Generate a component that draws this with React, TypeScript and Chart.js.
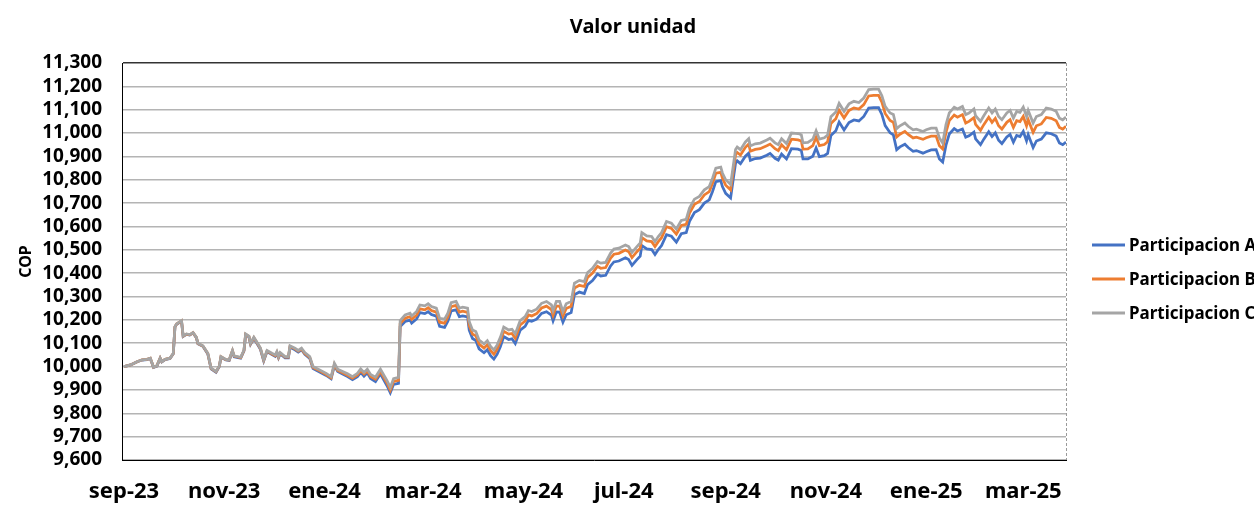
import React, { useEffect, useRef } from "react";
import { Chart, registerables } from "chart.js";

Chart.register(...registerables);

// Days elapsed since 2023-09-01 for each observation
const START_DATE = Date.UTC(2023, 8, 1);
const dayOffsets = [
  0, 4, 8, 11, 14, 16, 18, 20, 22, 23, 25, 28, 30, 31, 32, 35, 36, 38, 40, 42,
  44, 45, 48, 51, 53, 56, 58, 59, 62, 64, 66, 67, 71, 73, 74, 76, 77, 79, 81, 83,
  85, 87, 90, 92, 93, 94, 95, 98, 100, 101, 104, 106, 108, 110, 113, 115, 119, 123, 126, 128,
  130, 133, 136, 139, 142, 144, 146, 148, 150, 153, 156, 158, 160, 162, 164, 167, 168, 171, 174, 175,
  178, 180, 183, 185, 187, 190, 192, 195, 197, 199, 202, 204, 206, 209, 210, 212, 214, 216, 219, 221,
  223, 225, 227, 229, 231, 234, 236, 238, 241, 244, 246, 248, 251, 254, 257, 260, 261, 263, 265, 267,
  269, 272, 274, 277, 280, 282, 285, 288, 290, 293, 296, 298, 301, 305, 307, 309, 312, 314, 315, 318,
  321, 323, 325, 327, 330, 333, 336, 339, 342, 344, 347, 350, 353, 356, 358, 360, 363, 364, 366, 369,
  371, 372, 373, 375, 378, 380, 381, 384, 387, 391, 393, 396, 398, 400, 403, 406, 410, 412, 413, 416,
  419, 421, 423, 426, 428, 430, 433, 435, 438, 441, 444, 447, 450, 453, 456, 459, 461, 463, 466, 468,
  470, 472, 475, 477, 480, 482, 486, 488, 491, 494, 496, 498, 500, 502, 505, 507, 510, 512, 514, 517,
  518, 521, 523, 526, 528, 530, 532, 534, 537, 539, 541, 543, 545, 547, 549, 550, 553, 555, 558, 561,
  564, 567, 569, 571, 573,
];

const participacionC = [
  10000, 10007, 10021, 10029, 10031, 10036, 9997, 10003, 10036, 10021, 10031, 10036, 10057, 10171, 10183, 10197, 10131, 10140, 10137, 10146,
  10126, 10100, 10089, 10057, 9993, 9979, 10003, 10043, 10031, 10029, 10069, 10046, 10040, 10071, 10140, 10131, 10100, 10126, 10103, 10079,
  10029, 10069, 10057, 10050, 10064, 10043, 10060, 10043, 10043, 10089, 10079, 10069, 10079, 10060, 10043, 10000, 9986, 9971, 9957, 10014,
  9989, 9979, 9969, 9957, 9971, 9990, 9975, 9989, 9966, 9955, 9989, 9964, 9940, 9911, 9948, 9954, 10197, 10221, 10229, 10217,
  10236, 10264, 10260, 10269, 10257, 10250, 10207, 10203, 10229, 10274, 10279, 10250, 10254, 10250, 10193, 10157, 10150, 10114, 10097, 10111,
  10086, 10071, 10093, 10126, 10169, 10157, 10160, 10140, 10197, 10214, 10240, 10236, 10246, 10271, 10279, 10264, 10240, 10279, 10279, 10236,
  10269, 10279, 10357, 10369, 10364, 10403, 10421, 10450, 10443, 10446, 10486, 10503, 10507, 10521, 10514, 10489, 10514, 10529, 10574, 10560,
  10557, 10536, 10557, 10574, 10621, 10614, 10589, 10626, 10631, 10679, 10717, 10729, 10757, 10771, 10807, 10850, 10854, 10829, 10800, 10780,
  10880, 10930, 10940, 10929, 10962, 10976, 10945, 10954, 10957, 10970, 10978, 10958, 10950, 10976, 10955, 11000, 10998, 10993, 10958, 10960,
  10974, 11010, 10974, 10980, 10992, 11070, 11090, 11127, 11093, 11125, 11136, 11131, 11150, 11186, 11188, 11188, 11160, 11114, 11086, 11080,
  11019, 11031, 11043, 11029, 11014, 11017, 11007, 11014, 11021, 11021, 10979, 10957, 11036, 11086, 11111, 11103, 11114, 11079, 11086, 11103,
  11074, 11050, 11074, 11107, 11086, 11103, 11071, 11057, 11086, 11097, 11064, 11093, 11089, 11111, 11071, 11097, 11043, 11071, 11079, 11107,
  11103, 11093, 11064, 11057, 11069,
];

const participacionB = [
  10000, 10007, 10021, 10029, 10031, 10036, 9997, 10003, 10036, 10021, 10031, 10036, 10056, 10170, 10182, 10196, 10130, 10139, 10136, 10145,
  10125, 10099, 10088, 10056, 9992, 9978, 10002, 10042, 10030, 10028, 10068, 10045, 10038, 10069, 10138, 10129, 10098, 10124, 10101, 10077,
  10027, 10067, 10054, 10047, 10061, 10040, 10057, 10040, 10040, 10086, 10076, 10066, 10075, 10056, 10039, 9996, 9982, 9966, 9952, 10009,
  9984, 9974, 9963, 9951, 9964, 9983, 9968, 9981, 9958, 9946, 9979, 9954, 9929, 9899, 9936, 9941, 10184, 10207, 10214, 10202,
  10220, 10247, 10243, 10252, 10240, 10233, 10190, 10186, 10212, 10257, 10262, 10233, 10237, 10232, 10175, 10139, 10132, 10096, 10079, 10093,
  10068, 10053, 10075, 10108, 10151, 10139, 10142, 10121, 10178, 10195, 10221, 10217, 10227, 10251, 10259, 10244, 10220, 10259, 10259, 10216,
  10249, 10258, 10336, 10348, 10343, 10382, 10400, 10429, 10421, 10424, 10464, 10481, 10485, 10499, 10492, 10467, 10492, 10507, 10552, 10538,
  10535, 10514, 10535, 10552, 10599, 10592, 10567, 10604, 10609, 10657, 10695, 10707, 10735, 10749, 10785, 10828, 10832, 10807, 10777, 10757,
  10857, 10907, 10917, 10906, 10939, 10953, 10922, 10930, 10933, 10946, 10953, 10933, 10925, 10950, 10929, 10974, 10971, 10966, 10931, 10932,
  10946, 10982, 10946, 10951, 10963, 11041, 11061, 11098, 11065, 11097, 11108, 11103, 11122, 11159, 11161, 11161, 11132, 11084, 11054, 11046,
  10983, 10995, 11007, 10994, 10979, 10982, 10973, 10980, 10987, 10987, 10946, 10932, 11003, 11053, 11077, 11068, 11079, 11043, 11050, 11066,
  11037, 11012, 11036, 11068, 11046, 11063, 11031, 11017, 11046, 11057, 11024, 11053, 11049, 11071, 11031, 11057, 11003, 11031, 11039, 11067,
  11063, 11053, 11024, 11017, 11029,
];

const participacionA = [
  10000, 10007, 10021, 10028, 10030, 10035, 9996, 10002, 10035, 10020, 10030, 10035, 10055, 10169, 10181, 10195, 10129, 10138, 10135, 10144,
  10124, 10098, 10087, 10054, 9990, 9976, 10000, 10040, 10028, 10026, 10066, 10042, 10036, 10067, 10136, 10127, 10096, 10121, 10098, 10074,
  10024, 10064, 10052, 10044, 10058, 10037, 10054, 10037, 10037, 10083, 10072, 10062, 10072, 10053, 10035, 9992, 9977, 9962, 9948, 10004,
  9979, 9968, 9957, 9944, 9957, 9975, 9959, 9973, 9949, 9936, 9969, 9943, 9918, 9888, 9924, 9928, 10171, 10193, 10199, 10186,
  10204, 10231, 10227, 10235, 10223, 10216, 10172, 10168, 10194, 10238, 10243, 10214, 10217, 10213, 10156, 10120, 10112, 10076, 10059, 10072,
  10047, 10032, 10053, 10086, 10129, 10116, 10119, 10099, 10156, 10172, 10198, 10194, 10203, 10228, 10235, 10220, 10196, 10234, 10233, 10190,
  10222, 10231, 10308, 10319, 10313, 10351, 10368, 10396, 10388, 10391, 10431, 10448, 10452, 10466, 10458, 10433, 10458, 10473, 10518, 10504,
  10501, 10480, 10501, 10518, 10565, 10558, 10533, 10569, 10574, 10622, 10660, 10672, 10700, 10714, 10750, 10792, 10796, 10771, 10742, 10722,
  10822, 10871, 10881, 10869, 10901, 10914, 10883, 10891, 10893, 10905, 10913, 10892, 10884, 10910, 10889, 10933, 10931, 10925, 10889, 10889,
  10901, 10936, 10899, 10903, 10913, 10990, 11010, 11047, 11013, 11045, 11056, 11052, 11071, 11107, 11109, 11109, 11080, 11032, 11001, 10992,
  10929, 10941, 10952, 10938, 10922, 10925, 10914, 10920, 10928, 10929, 10889, 10876, 10948, 10996, 11019, 11009, 11017, 10982, 10988, 11004,
  10975, 10950, 10974, 11006, 10985, 11001, 10969, 10955, 10983, 10994, 10961, 10990, 10985, 11007, 10967, 10993, 10938, 10966, 10974, 11001,
  10997, 10987, 10957, 10950, 10962,
];

const chartTitle = "Valor unidad";
const seriesNames = ["Participacion A", "Participacion B", "Participacion C"];
const seriesColors = ["#4472C4", "#ED7D31", "#A5A5A5"];
const xTickLabels = ["sep-23", "nov-23", "ene-24", "mar-24", "may-24", "jul-24", "sep-24", "nov-24", "ene-25", "mar-25"];
const xTickDays = xTickLabels.map((_, k) => (Date.UTC(2023, 8 + 2 * k, 1) - START_DATE) / 86400000);

const FONT = "'Noto Sans', 'Liberation Sans', sans-serif";

const decorPlugin = {
  id: "decor",
  afterDraw(chart: any) {
    const ctx = chart.ctx;
    const ys = [245, 279, 313];
    ctx.save();
    // title
    ctx.fillStyle = "#000";
    ctx.font = `bold 20px ${FONT}`;
    ctx.textAlign = "center";
    ctx.textBaseline = "middle";
    ctx.fillText(chartTitle, 633, 27);
    // legend
    ctx.font = `bold 17px ${FONT}`;
    ctx.textAlign = "left";
    seriesNames.forEach((name, i) => {
      ctx.strokeStyle = seriesColors[i];
      ctx.lineWidth = 3;
      ctx.beginPath();
      ctx.moveTo(1092, ys[i]);
      ctx.lineTo(1125, ys[i]);
      ctx.stroke();
      ctx.fillStyle = "#000";
      ctx.fillText(name, 1129, ys[i] + 1);
    });
    // right edge of plot area (dashed)
    const a = chart.chartArea;
    ctx.strokeStyle = "#9a9a9a";
    ctx.lineWidth = 1;
    ctx.setLineDash([3, 2]);
    ctx.beginPath();
    ctx.moveTo(a.right + 0.5, a.top);
    ctx.lineTo(a.right + 0.5, a.bottom);
    ctx.stroke();
    ctx.restore();
  },
};

export default function App() {
  const ref = useRef<HTMLCanvasElement>(null);

  useEffect(() => {
    if (!ref.current) return;
    Chart.defaults.color = "#000";
    const series = [participacionA, participacionB, participacionC];
    const chart = new Chart(ref.current, {
      type: "line",
      data: {
        datasets: series.map((vals, i) => ({
          label: seriesNames[i],
          data: dayOffsets.map((d, j) => ({ x: d, y: vals[j] })),
          borderColor: seriesColors[i],
          backgroundColor: seriesColors[i],
          borderWidth: 2.75,
          pointRadius: 0,
          tension: 0,
          order: 2 - i,
        })),
      },
      options: {
        animation: false,
        responsive: false,
        devicePixelRatio: 1,
        layout: { padding: { left: 0, right: 188, top: 63, bottom: 0 } },
        plugins: {
          legend: { display: false },
          tooltip: { enabled: false },
          title: { display: false },
        },
        scales: {
          x: {
            type: "linear",
            min: -1.2,
            max: 573,
            afterBuildTicks: (scale: any) => {
              scale.ticks = xTickDays.map((v) => ({ value: v }));
            },
            afterFit: (scale: any) => {
              scale.height = 50;
            },
            ticks: {
              autoSkip: false,
              maxRotation: 0,
              padding: 19,
              color: "#000",
              font: { family: FONT, size: 22, weight: "bold" },
              callback: (_v: any, index: number) => xTickLabels[index],
            },
            grid: { display: false, drawTicks: false },
            border: { display: true, color: "#000", width: 1 },
          },
          y: {
            min: 9600,
            max: 11300,
            afterFit: (scale: any) => {
              scale.width = 122;
            },
            ticks: {
              stepSize: 100,
              autoSkip: false,
              padding: 20,
              color: "#000",
              font: { family: FONT, size: 19, weight: "bold" },
              callback: (v: any) => Number(v).toLocaleString("en-US"),
            },
            title: {
              display: true,
              text: "COP",
              color: "#000",
              font: { family: FONT, size: 16, weight: "bold" },
              padding: { top: 17, bottom: 0 },
            },
            grid: {
              drawTicks: false,
              color: (c: any) => (c.tick && c.tick.value === 11300 ? "#333" : "#b4b4b4"),
              lineWidth: 1.5,
            },
            border: { display: true, color: "#000", width: 1 },
          },
        },
      },
      plugins: [decorPlugin],
    });
    return () => chart.destroy();
  }, []);

  return (
    <div style={{ position: "absolute", left: 0, top: 0, width: 1254, height: 510, overflow: "hidden", background: "#fff" }}>
      <canvas ref={ref} width={1254} height={510} />
    </div>
  );
}
